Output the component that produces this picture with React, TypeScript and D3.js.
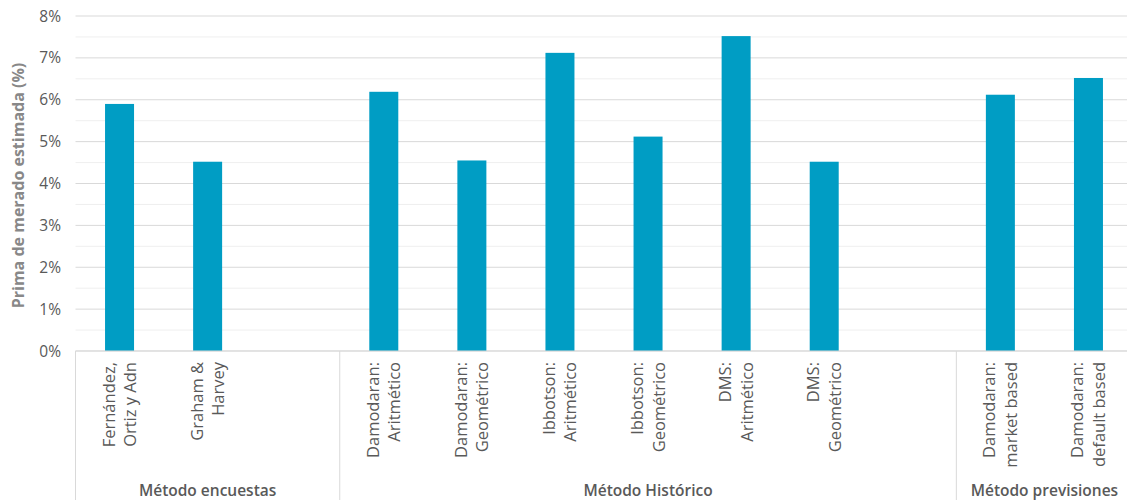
import React from "react";
import * as d3 from "d3";

const categories: string[][] = [
  ["Fernández,", "Ortiz y Adn"],
  ["Graham &", "Harvey"],
  ["", ""],
  ["Damodaran:", "Aritmético"],
  ["Damodaran:", "Geométrico"],
  ["Ibbotson:", "Aritmético"],
  ["Ibbotson:", "Geométrico"],
  ["DMS:", "Aritmético"],
  ["DMS:", "Geométrico"],
  ["", ""],
  ["Damodaran:", "market based"],
  ["Damodaran:", "default based"],
];
const values: (number | null)[] = [5.9, 4.52, null, 6.19, 4.55, 7.12, 5.12, 7.52, 4.52, null, 6.12, 6.52];
const groups = ["Método encuestas", "Método Histórico", "Método previsiones"];
const groupSizes = [3, 7, 2];
const yTicks = [0, 1, 2, 3, 4, 5, 6, 7, 8];
const yMinor = [0.5, 1.5, 2.5, 3.5, 4.5, 5.5, 6.5, 7.5];
const yTitle = "Prima de merado estimada (%)";

const W = 1127, H = 500;
const left = 75.5, right = 1132.5, top = 16, bottom = 351;
const font = "'Open Sans', sans-serif";
const gray = "#595959";

export default function App() {
  const idx = categories.map((_, i) => String(i));
  const x = d3.scaleBand().domain(idx).range([left, right]).paddingInner(0).paddingOuter(0);
  const y = d3.scaleLinear().domain([0, 8]).range([bottom, top]);
  const bw = 29;
  const bounds: number[] = [];
  let acc = 0;
  bounds.push(x(String(0))!);
  groupSizes.forEach((s) => {
    acc += s;
    bounds.push(acc < categories.length ? x(String(acc))! : right);
  });
  return (
    <svg width={W} height={H} style={{ position: "absolute", left: 0, top: 0 }} fontFamily={font}>
      <rect width={W} height={H} fill="#fff" />
      {yMinor.map((t) => (
        <line key={"m" + t} x1={left} x2={W} y1={y(t)} y2={y(t)} stroke="#efefef" strokeWidth={1} />
      ))}
      {yTicks.map((t) => (
        <line key={"g" + t} x1={left} x2={W} y1={y(t)} y2={y(t)} stroke="#d9d9d9" strokeWidth={1} />
      ))}
      {yTicks.map((t) => (
        <text key={"t" + t} x={61} y={y(t) + 5.5} textAnchor="end" fontSize={15.5} fill={gray}>
          {t + "%"}
        </text>
      ))}
      <text
        transform={`translate(24,${(top + bottom) / 2 + 2}) rotate(-90)`}
        textAnchor="middle"
        fontSize={16}
        fontWeight="bold"
        fill="#888888"
      >
        {yTitle}
      </text>
      {values.map((v, i) =>
        v == null ? null : (
          <rect
            key={"b" + i}
            x={x(String(i))! + x.bandwidth() / 2 - bw / 2}
            y={y(v)}
            width={bw}
            height={y(0) - y(v)}
            fill="#009DC4"
          />
        )
      )}
      {bounds.map((b, i) => (
        <line key={"v" + i} x1={b} x2={b} y1={bottom} y2={H} stroke="#d9d9d9" strokeWidth={1} />
      ))}
      <line x1={left} x2={W} y1={bottom} y2={bottom} stroke="#d9d9d9" strokeWidth={1} />
      {categories.map((c, i) => {
        const cx = x(String(i))! + x.bandwidth() / 2;
        return (
          <text
            key={"c" + i}
            transform={`translate(${cx - 5},362) rotate(-90)`}
            textAnchor="end"
            fontSize={16.5}
            fill={gray}
          >
            <tspan x={0} y={0}>{c[0]}</tspan>
            <tspan x={0} y={21.5}>{c[1]}</tspan>
          </text>
        );
      })}
      {groups.map((g, i) => (
        <text
          key={"gr" + i}
          x={(bounds[i] + bounds[i + 1]) / 2}
          y={496}
          textAnchor="middle"
          fontSize={15.5}
          fontWeight={600}
          fill={gray}
        >
          {g}
        </text>
      ))}
    </svg>
  );
}
